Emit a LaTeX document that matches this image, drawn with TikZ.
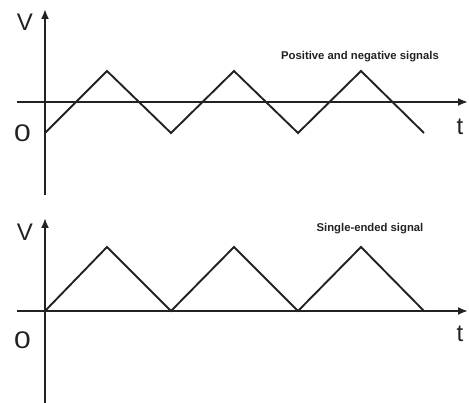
\documentclass[tikz,border=0pt]{standalone}
\usepackage{fontspec}
\setmainfont{Liberation Sans}
\usetikzlibrary{arrows.meta}
\definecolor{ink}{HTML}{222222}
\tikzset{
  axis/.style={draw=ink, line width=1.9pt, -{Latex[length=10pt,width=8pt]}},
  wave/.style={draw=ink, line width=1.9pt, line join=miter},
  axlabel/.style={text=ink, font=\fontsize{24}{24}\selectfont, inner sep=0pt},
  caption/.style={text=ink, font=\bfseries\fontsize{11.3}{11.3}\selectfont, inner sep=0pt}
}
\begin{document}
\begin{tikzpicture}[x=1pt,y=-1pt]
\useasboundingbox (0,0) rectangle (469,403);
% ---- top graph ----
\coordinate (v1b) at (45,195);
\coordinate (v1t) at (45,9);
\coordinate (h1l) at (17,102);
\coordinate (h1r) at (468,102);
\draw[axis] (v1b) -- (v1t);
\draw[axis] (h1l) -- (h1r);
\node[axlabel] (V1) at (25,22) {V};
\node[axlabel, xscale=1.25] (O1) at (22.5,133) {0};
\node[axlabel] (T1) at (460,127) {t};
\draw[wave] (45,133) -- (107,71) -- (171,133) -- (234,71) -- (298,133) -- (361,71) -- (424,133);
\node[caption] (C1) at (360,57) {Positive and negative signals};
% ---- bottom graph ----
\coordinate (v2b) at (45,403);
\coordinate (v2t) at (45,218);
\coordinate (h2l) at (17,311);
\coordinate (h2r) at (468,311);
\draw[axis] (v2b) -- (v2t);
\draw[axis] (h2l) -- (h2r);
\node[axlabel] (V2) at (25,232) {V};
\node[axlabel, xscale=1.25] (O2) at (22.5,340) {0};
\node[axlabel] (T2) at (460,334) {t};
\draw[wave] (45,311) -- (107,247) -- (171,311) -- (234,247) -- (298,311) -- (361,247) -- (424,311);
\node[caption] (C2) at (370,229) {Single-ended signal};
\end{tikzpicture}
\end{document}
